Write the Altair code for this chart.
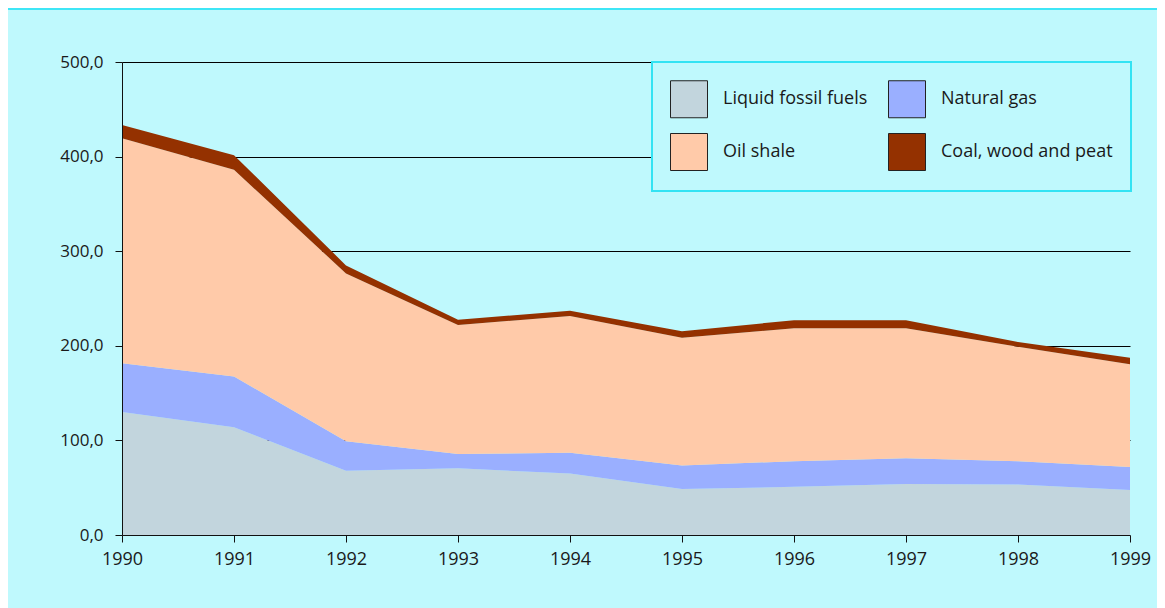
import altair as alt
import pandas as pd

years = [1990, 1991, 1992, 1993, 1994, 1995, 1996, 1997, 1998, 1999]
liquid = [130.0, 114.0, 68.0, 70.5, 65.0, 48.5, 51.0, 54.0, 53.5, 47.5]
gas = [51.5, 53.5, 31.0, 15.0, 22.0, 25.0, 27.0, 27.0, 24.5, 24.5]
shale = [238.0, 218.5, 177.5, 136.5, 144.5, 135.0, 140.5, 137.5, 121.0, 108.5]
coal = [14.0, 15.5, 8.5, 5.5, 5.5, 7.0, 8.5, 8.5, 5.0, 7.0]

categories = ["Liquid fossil fuels", "Natural gas", "Oil shale", "Coal, wood and peat"]
colors = ["#C2D5DD", "#9AAFFF", "#FFCAA9", "#943100"]
y_ticks = [0, 100, 200, 300, 400, 500]
grid_ticks = [100, 200, 300, 400, 500]

series = [liquid, gas, shale, coal]
rows = []
for i, yr in enumerate(years):
    for k, cat in enumerate(categories):
        rows.append({"year": yr, "fuel": cat, "value": series[k][i], "order": k})
df = pd.DataFrame(rows)
totals = pd.DataFrame({"year": years,
                       "total": [a + b + c + d for a, b, c, d in zip(liquid, gas, shale, coal)]})

FONT = "Open Sans"
BG = "#BFF9FD"

x_scale = alt.Scale(domain=[1990, 1999], nice=False, zero=False)
x_axis = alt.Axis(values=years, format="d", title=None, grid=False,
                  tickSize=7, tickColor="#111", domainColor="#111",
                  labelFont=FONT, labelFontSize=18, labelColor="#1a1a1a",
                  labelPadding=8, labelFlush=False, zindex=1)
y_scale = alt.Scale(domain=[0, 500], nice=False, zero=True)

grid_layer = alt.Chart(totals).mark_point(opacity=0).encode(
    x=alt.X("year:Q", scale=x_scale, axis=x_axis),
    y=alt.Y("total:Q", scale=y_scale,
            axis=alt.Axis(orient="left", values=grid_ticks, grid=True,
                          gridColor="#000", gridWidth=1, labels=False,
                          ticks=False, domain=False, title=None, zindex=0)),
)

area_layer = alt.Chart(df).mark_area(opacity=1).encode(
    x=alt.X("year:Q", scale=x_scale, axis=x_axis),
    y=alt.Y("value:Q", stack="zero", scale=y_scale,
            axis=alt.Axis(orient="left", values=y_ticks, grid=False,
                          tickSize=7, tickColor="#111", domainColor="#111",
                          labelFont=FONT, labelFontSize=17, labelColor="#1a1a1a",
                          labelPadding=12, title=None, zindex=1,
                          labelExpr="replace(format(datum.value, '.1f'), '.', ',')")),
    color=alt.Color("fuel:N", scale=alt.Scale(domain=categories, range=colors),
                    sort=categories,
                    legend=alt.Legend(title=None, orient="none", legendX=530, legendY=0,
                                      direction="horizontal",
                                      columns=2, symbolType="square", symbolSize=1369,
                                      symbolStrokeColor="#222", symbolStrokeWidth=1,
                                      symbolOpacity=1, labelLimit=400,
                                      labelFont=FONT, labelFontSize=18, labelColor="#1a1a1a",
                                      labelOffset=15, rowPadding=11, columnPadding=18,
                                      padding=18, fillColor=BG, strokeColor="#33E3F3",
                                      zindex=2)),
    order=alt.Order("order:Q", sort="ascending"),
)

top_line = alt.Chart(totals).mark_rule(color="#3FE6F6", strokeWidth=2).encode(
    x=alt.value(-114), x2=alt.value(1035), y=alt.value(-53)
)

chart = alt.layer(grid_layer, area_layer, top_line).resolve_scale(
    y="independent"
).properties(
    width=1008, height=473,
    autosize=alt.AutoSizeParams(type="none"),
    padding={"left": 114, "top": 54, "right": 27, "bottom": 73},
    background=BG,
).configure_view(strokeWidth=0).configure_legend(strokeWidth=2)

chart.save("out.html", embed_options={"renderer": "svg", "actions": False})
